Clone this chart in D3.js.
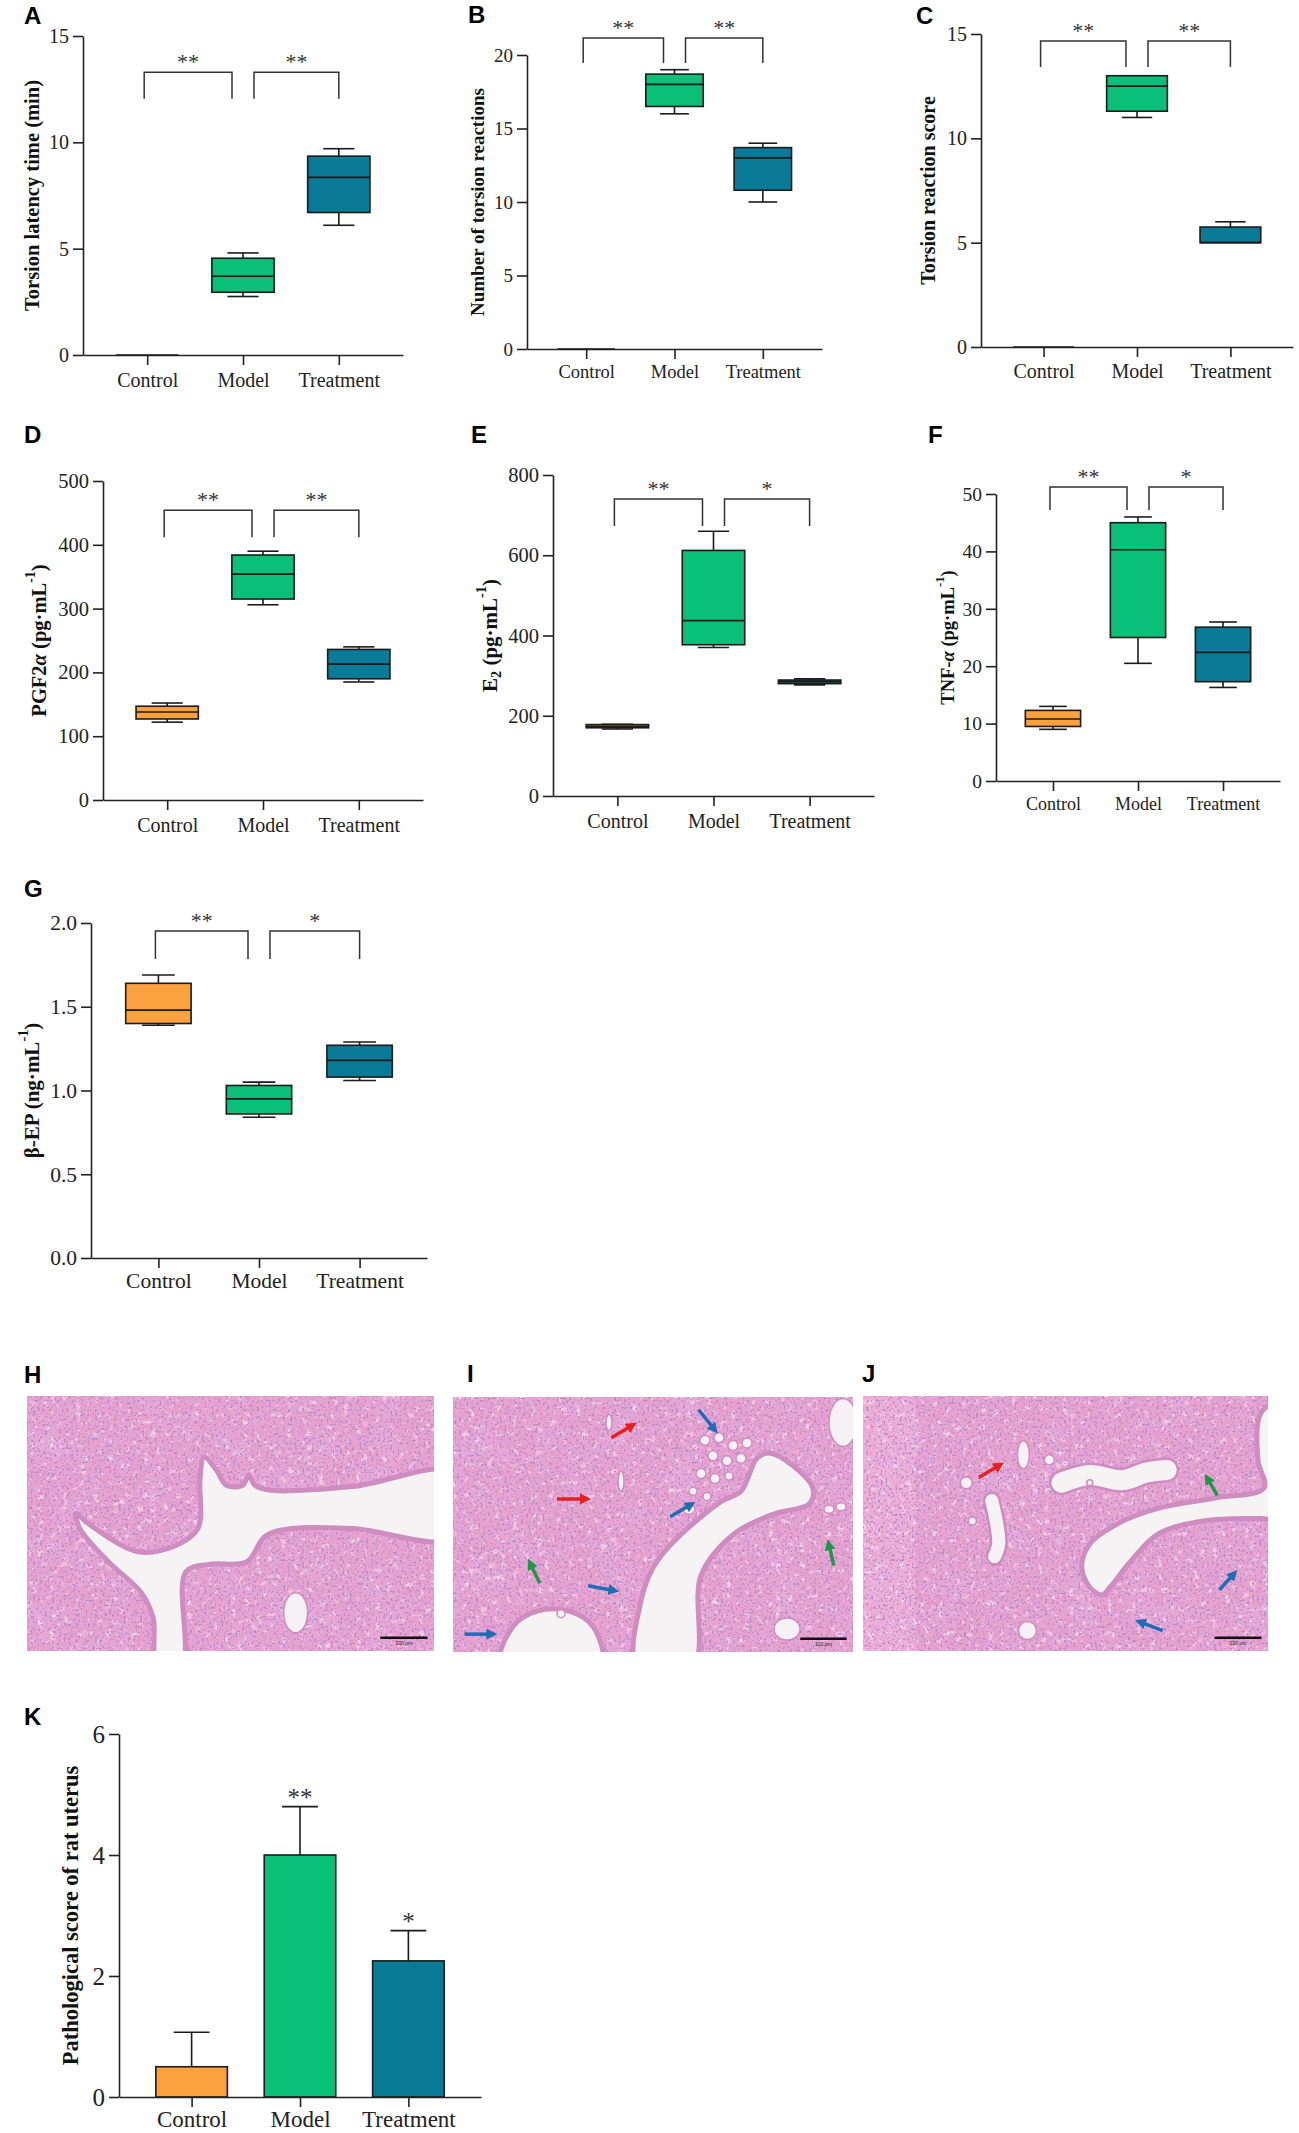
<!DOCTYPE html>
<html>
<head>
<meta charset="utf-8">
<script src="https://cdn.jsdelivr.net/npm/d3@7"></script>
<style>
  body { margin: 0; background: #fff; }
  svg { display: block; }
</style>
</head>
<body>
<svg id="fig"></svg>
<script>
// ---- data ----
let groups = ["Control", "Model", "Treatment"];
let groupColors = ["#f9a03f", "#0abf78", "#0a7b96"];

// box stats per group: [min, q1, median, q3, max]
let latencyStats  = [[0, 0, 0, 0, 0], [2.75, 2.95, 3.7, 4.55, 4.8], [6.1, 6.7, 8.35, 9.35, 9.7]];
let countStats    = [[0, 0, 0, 0, 0], [16, 16.5, 18, 18.7, 19], [10, 10.8, 13, 13.7, 14]];
let scoreStats    = [[0, 0, 0, 0, 0], [11, 11.3, 12.5, 13, 13], [5, 5, 5, 5.75, 6]];
let pgf2aStats    = [[122, 127, 138, 147, 152], [306, 315, 354, 384, 390], [185, 190, 213, 236, 240]];
let e2Stats       = [[167, 170, 174, 178, 179], [370, 377, 437, 612, 660], [277, 280, 285, 289, 292]];
let tnfStats      = [[9, 9.5, 10.8, 12.3, 13], [20.5, 25, 40.3, 45, 46], [16.3, 17.3, 22.4, 26.8, 27.7]];
let betaEpStats   = [[1.39, 1.40, 1.48, 1.64, 1.69], [0.84, 0.86, 0.95, 1.03, 1.05], [1.06, 1.08, 1.18, 1.27, 1.29]];

let pathMeans = [0.5, 4.0, 2.25];
let pathSD    = [0.57, 0.8, 0.5];
let pathSig   = ["", "**", "*"];

let latencyTicks = [0, 5, 10, 15];
let countTicks   = [0, 5, 10, 15, 20];
let scoreTicks   = [0, 5, 10, 15];
let pgf2aTicks   = [0, 100, 200, 300, 400, 500];
let e2Ticks      = [0, 200, 400, 600, 800];
let tnfTicks     = [0, 10, 20, 30, 40, 50];
let betaEpTicks  = [0, 0.5, 1.0, 1.5, 2.0];
let pathTicks    = [0, 2, 4, 6];

let latencySig = ["**", "**"];
let countSig   = ["**", "**"];
let scoreSig   = ["**", "**"];
let pgf2aSig   = ["**", "**"];
let e2Sig      = ["**", "*"];
let tnfSig     = ["**", "*"];
let betaEpSig  = ["**", "*"];

let svgWidth = 1299, svgHeight = 2133;
let serif = "'Liberation Serif', 'Times New Roman', serif";
let sans = "'Liberation Sans', Arial, sans-serif";
let ink = "#222";

let svg = d3.select("#fig").attr("width", svgWidth).attr("height", svgHeight);
let defs = svg.append("defs");

// ---- panel layout ----
let boxPanels = [
  {letter: "A", lx: 24, ly: 24, x0: 83, x1: 403, yTop: 36, yBot: 355, max: 15, ticks: latencyTicks, stats: latencyStats, sig: latencySig,
   bTop: 13.3, bLeg: 12.05, title: [{t: "Torsion latency time (min)"}], tOff: 51, tSize: 20.5, fs: 20, cs: 20, cPad: 8},
  {letter: "B", lx: 468, ly: 23, x0: 527, x1: 822, yTop: 55, yBot: 349, max: 20, ticks: countTicks, stats: countStats, sig: countSig,
   bTop: 21.16, bLeg: 19.45, title: [{t: "Number of torsion reactions"}], tOff: 50, tSize: 19, fs: 19, cs: 18.5, cPad: 6},
  {letter: "C", lx: 916, ly: 24, x0: 981, x1: 1293, yTop: 34, yBot: 347, max: 15, ticks: scoreTicks, stats: scoreStats, sig: scoreSig,
   bTop: 14.66, bLeg: 13.42, title: [{t: "Torsion reaction score"}], tOff: 53, tSize: 20, fs: 20, cs: 20, cPad: 7},
  {letter: "D", lx: 24, ly: 443, x0: 103, x1: 423, yTop: 481, yBot: 800, max: 500, ticks: pgf2aTicks, stats: pgf2aStats, sig: pgf2aSig,
   bTop: 454, bLeg: 412, title: [{t: "PGF2"}, {t: "α", it: true}, {t: " (pg·mL"}, {t: "-1", sup: true}, {t: ")"}], tOff: 64, tSize: 20.5, fs: 20.5, cs: 20, cPad: 8},
  {letter: "E", lx: 471, ly: 443, x0: 553, x1: 874, yTop: 475, yBot: 796, max: 800, ticks: e2Ticks, stats: e2Stats, sig: e2Sig,
   bTop: 740, bLeg: 673, title: [{t: "E"}, {t: "2", sub: true}, {t: " (pg·mL"}, {t: "-1", sup: true}, {t: ")"}], tOff: 63, tSize: 21, fs: 20.5, cs: 20, cPad: 8},
  {letter: "F", lx: 928, ly: 443, x0: 996, x1: 1280, yTop: 494, yBot: 781, max: 50, ticks: tnfTicks, stats: tnfStats, sig: tnfSig,
   bTop: 51.2, bLeg: 47.2, title: [{t: "TNF-"}, {t: "α", it: true}, {t: " (pg·mL"}, {t: "-1", sup: true}, {t: ")"}], tOff: 48, tSize: 18.5, fs: 19.5, cs: 18, cPad: 6},
  {letter: "G", lx: 24, ly: 897, x0: 91, x1: 427, yTop: 923, yBot: 1258, max: 2, ticks: betaEpTicks, stats: betaEpStats, sig: betaEpSig,
   bTop: 1.952, bLeg: 1.785, title: [{t: "β-EP (ng·mL"}, {t: "-1", sup: true}, {t: ")"}], tOff: 59, tSize: 21, fs: 21.5, cs: 21.5, cPad: 5, fmt: d3.format(".1f")}
];

let barPanel = {letter: "K", lx: 24, ly: 1725, x0: 119, x1: 481, yTop: 1734, yBot: 2097, max: 6, ticks: pathTicks,
  title: [{t: "Pathological score of rat uterus"}], tOff: 49, tSize: 22.5, fs: 25, cs: 23, cPad: 4};

function panelLetter(p) {
  svg.append("text")
    .text(p.letter)
    .attr("x", p.lx)
    .attr("y", p.ly)
    .attr("font-family", sans)
    .attr("font-weight", "bold")
    .attr("font-size", "24px")
    .attr("fill", "#000");
}

function yTitle(p) {
  let cy = (p.yTop + p.yBot) / 2;
  let t = svg.append("text")
    .attr("transform", "translate(" + (p.x0 - p.tOff) + "," + cy + ") rotate(-90)")
    .attr("text-anchor", "middle")
    .attr("dominant-baseline", "central")
    .attr("font-family", serif)
    .attr("font-weight", "bold")
    .attr("font-size", p.tSize + "px")
    .attr("fill", "#111");
  let shift = 0;
  p.title.forEach(function(seg) {
    let s = t.append("tspan").text(seg.t);
    let want = seg.sup ? -0.42 * p.tSize : (seg.sub ? 0.3 * p.tSize : 0);
    if (want !== shift) { s.attr("dy", want - shift); shift = want; }
    if (seg.sup || seg.sub) s.attr("font-size", (p.tSize * 0.68) + "px");
    if (seg.it) s.attr("font-style", "italic");
  });
}

function axes(p, x, y) {
  let ya = svg.append("g")
    .attr("transform", "translate(" + p.x0 + ",0)")
    .call(d3.axisLeft(y).tickValues(p.ticks).tickSize(10).tickSizeOuter(0).tickPadding(4)
      .tickFormat(p.fmt || d3.format("d")));
  let xa = svg.append("g")
    .attr("transform", "translate(0," + p.yBot + ")")
    .call(d3.axisBottom(x).tickSize(10).tickSizeOuter(0).tickPadding(p.cPad));
  [ya, xa].forEach(function(a) {
    a.selectAll(".domain, .tick line").attr("stroke", ink).attr("stroke-width", 1.6);
    a.selectAll("text").attr("font-family", serif).attr("fill", ink);
  });
  ya.selectAll("text").attr("font-size", p.fs + "px");
  xa.selectAll("text").attr("font-size", p.cs + "px");
}

function drawBoxPanel(p) {
  let x = d3.scalePoint().domain(groups).range([p.x0, p.x1]).padding(0.67);
  let y = d3.scaleLinear().domain([0, p.max]).range([p.yBot, p.yTop]);
  let bw = x.step() * 0.65;

  axes(p, x, y);

  let boxes = svg.append("g").selectAll("g")
    .data(groups)
    .enter()
    .append("g")
    .attr("transform", function(d) { return "translate(" + x(d) + ",0)"; });

  boxes.each(function(d, i) {
    let s = p.stats[i];
    let b = d3.select(this);
    if (s[4] > s[3]) {
      b.append("line").attr("x1", 0).attr("x2", 0).attr("y1", y(s[4])).attr("y2", y(s[3]));
      b.append("line").attr("x1", -bw / 4).attr("x2", bw / 4).attr("y1", y(s[4])).attr("y2", y(s[4]));
    }
    if (s[1] > s[0]) {
      b.append("line").attr("x1", 0).attr("x2", 0).attr("y1", y(s[1])).attr("y2", y(s[0]));
      b.append("line").attr("x1", -bw / 4).attr("x2", bw / 4).attr("y1", y(s[0])).attr("y2", y(s[0]));
    }
    b.append("rect")
      .attr("x", -bw / 2)
      .attr("y", y(s[3]))
      .attr("width", bw)
      .attr("height", y(s[1]) - y(s[3]))
      .attr("fill", groupColors[i]);
    b.append("line").attr("x1", -bw / 2).attr("x2", bw / 2).attr("y1", y(s[2])).attr("y2", y(s[2]));
  });
  boxes.selectAll("line, rect").attr("stroke", "#1b1b1b").attr("stroke-width", 1.6);

  // significance brackets
  let pairs = [[0, 1], [1, 2]], gap = 11;
  pairs.forEach(function(pr, k) {
    let left = x(groups[pr[0]]) + (k === 0 ? -3 : gap);
    let right = x(groups[pr[1]]) - (k === 0 ? gap : 0);
    svg.append("path")
      .attr("d", "M" + left + "," + y(p.bLeg) + "V" + y(p.bTop) + "H" + right + "V" + y(p.bLeg))
      .attr("fill", "none")
      .attr("stroke", "#333")
      .attr("stroke-width", 1.5);
    svg.append("text")
      .text(p.sig[k])
      .attr("x", (left + right) / 2)
      .attr("y", y(p.bTop) - 3)
      .attr("text-anchor", "middle")
      .attr("font-family", serif)
      .attr("font-size", "22px")
      .attr("fill", "#333");
  });

  yTitle(p);
  panelLetter(p);
}

function drawBarPanel(p) {
  let x = d3.scalePoint().domain(groups).range([p.x0, p.x1]).padding(0.67);
  let y = d3.scaleLinear().domain([0, p.max]).range([p.yBot, p.yTop]);
  let bw = x.step() * 0.66;

  let bars = svg.append("g").selectAll("g")
    .data(groups)
    .enter()
    .append("g")
    .attr("transform", function(d) { return "translate(" + x(d) + ",0)"; });

  bars.append("line")
    .attr("x1", 0).attr("x2", 0)
    .attr("y1", function(d, i) { return y(pathMeans[i]); })
    .attr("y2", function(d, i) { return y(pathMeans[i] + pathSD[i]); });
  bars.append("line")
    .attr("x1", -bw / 4).attr("x2", bw / 4)
    .attr("y1", function(d, i) { return y(pathMeans[i] + pathSD[i]); })
    .attr("y2", function(d, i) { return y(pathMeans[i] + pathSD[i]); });
  bars.append("rect")
    .attr("x", -bw / 2)
    .attr("y", function(d, i) { return y(pathMeans[i]); })
    .attr("width", bw)
    .attr("height", function(d, i) { return y(0) - y(pathMeans[i]); })
    .attr("fill", function(d, i) { return groupColors[i]; });
  bars.selectAll("line, rect").attr("stroke", "#1b1b1b").attr("stroke-width", 1.6);

  bars.append("text")
    .text(function(d, i) { return pathSig[i]; })
    .attr("x", 0)
    .attr("y", function(d, i) { return y(pathMeans[i] + pathSD[i]) - 1; })
    .attr("text-anchor", "middle")
    .attr("font-family", serif)
    .attr("font-size", "25px")
    .attr("fill", "#333");

  axes(p, x, y);
  yTitle(p);
  panelLetter(p);
}

boxPanels.forEach(drawBoxPanel);
drawBarPanel(barPanel);

// ---- H&E micrographs (H, I, J): drawn as stylised tissue ----
defs.append("filter").attr("id", "nuclei").attr("x", 0).attr("y", 0).attr("width", 1).attr("height", 1)
  .call(function(f) {
    f.append("feTurbulence").attr("type", "fractalNoise").attr("baseFrequency", 0.42).attr("numOctaves", 2).attr("seed", 4);
    f.append("feColorMatrix").attr("type", "matrix")
      .attr("values", "0 0 0 0 0.48  0 0 0 0 0.26  0 0 0 0 0.60  7 0 0 0 -3.85");
  });
defs.append("filter").attr("id", "voids").attr("x", 0).attr("y", 0).attr("width", 1).attr("height", 1)
  .call(function(f) {
    f.append("feTurbulence").attr("type", "fractalNoise").attr("baseFrequency", 0.16).attr("numOctaves", 2).attr("seed", 11);
    f.append("feColorMatrix").attr("type", "matrix")
      .attr("values", "0 0 0 0 1  0 0 0 0 0.93  0 0 0 0 0.98  0 5 0 0 -2.9");
  });
defs.append("filter").attr("id", "fibres").attr("x", 0).attr("y", 0).attr("width", 1).attr("height", 1)
  .call(function(f) {
    f.append("feTurbulence").attr("type", "fractalNoise").attr("baseFrequency", 0.03).attr("numOctaves", 3).attr("seed", 2);
    f.append("feColorMatrix").attr("type", "matrix")
      .attr("values", "0 0 0 0 0.80  0 0 0 0 0.45  0 0 0 0 0.75  0 0 3 0 -1.45");
  });

let arrowColors = {red: "#e3211f", blue: "#1f6db5", green: "#21964a"};
Object.keys(arrowColors).forEach(function(k) {
  defs.append("marker")
    .attr("id", "head-" + k)
    .attr("viewBox", "0 0 10 10")
    .attr("refX", 6).attr("refY", 5)
    .attr("markerWidth", 11).attr("markerHeight", 11)
    .attr("markerUnits", "userSpaceOnUse")
    .attr("orient", "auto")
    .append("path").attr("d", "M0,0L10,5L0,10z").attr("fill", arrowColors[k]);
});

let hLumen = [[1.05, 0.30], [0.80, 0.355], [0.60, 0.37], [0.56, 0.35], [0.545, 0.31], [0.53, 0.35], [0.49, 0.35], [0.465, 0.29],
  [0.435, 0.24], [0.425, 0.33], [0.42, 0.52], [0.36, 0.59], [0.27, 0.61], [0.15, 0.50], [0.12, 0.46], [0.13, 0.52], [0.20, 0.65],
  [0.28, 0.77], [0.31, 0.87], [0.32, 1.05], [0.38, 1.05], [0.39, 0.69], [0.45, 0.66], [0.54, 0.65], [0.585, 0.55], [0.65, 0.52],
  [0.80, 0.52], [1.05, 0.555]];
let iLumenA = [[0.79, 0.22], [0.76, 0.24], [0.72, 0.37], [0.67, 0.41], [0.55, 0.57], [0.50, 0.67], [0.47, 0.80], [0.46, 1.05],
  [0.60, 1.05], [0.62, 0.70], [0.70, 0.54], [0.80, 0.46], [0.89, 0.42], [0.90, 0.36], [0.85, 0.27]];
let iLumenB = [[0.12, 1.05], [0.15, 0.90], [0.21, 0.84], [0.29, 0.84], [0.35, 0.90], [0.37, 1.05]];
let jLumen = [[1.05, 0.02], [0.985, 0.06], [0.975, 0.25], [0.99, 0.36], [0.87, 0.40], [0.73, 0.44], [0.63, 0.50], [0.56, 0.58],
  [0.54, 0.67], [0.56, 0.75], [0.59, 0.78], [0.61, 0.75], [0.66, 0.65], [0.73, 0.54], [0.84, 0.49], [0.98, 0.48], [1.05, 0.48]];

let histoPanels = [
  {letter: "H", lx: 24, ly: 1383, x: 27, y: 1396, w: 407, h: 255, muscle: false,
   lumens: [hLumen], ducts: [], holes: [[0.66, 0.85, 12, 20]],
   arrows: []},
  {letter: "I", lx: 467, ly: 1382, x: 453, y: 1397, w: 400, h: 255, muscle: false,
   lumens: [iLumenA, iLumenB], ducts: [],
   holes: [[0.975, 0.10, 14, 24], [0.835, 0.91, 13, 11], [0.63, 0.17, 5, 5], [0.665, 0.16, 5, 5], [0.70, 0.19, 5, 5], [0.735, 0.18, 5, 5],
     [0.65, 0.23, 5, 5], [0.685, 0.25, 5, 5], [0.72, 0.24, 5, 5], [0.62, 0.30, 5, 5], [0.655, 0.32, 5, 5], [0.69, 0.31, 4, 4],
     [0.60, 0.37, 4, 4], [0.635, 0.39, 4, 4], [0.59, 0.44, 6, 5], [0.94, 0.44, 5, 4], [0.97, 0.43, 5, 4], [0.39, 0.10, 3, 8],
     [0.42, 0.33, 3, 10], [0.27, 0.85, 4, 4]],
   arrows: [[0.396, 0.16, 0.45, 0.11, "red"], [0.26, 0.40, 0.334, 0.40, "red"], [0.614, 0.05, 0.655, 0.13, "blue"],
     [0.543, 0.47, 0.597, 0.42, "blue"], [0.338, 0.74, 0.405, 0.76, "blue"], [0.029, 0.93, 0.10, 0.93, "blue"],
     [0.217, 0.73, 0.192, 0.65, "green"], [0.952, 0.66, 0.939, 0.575, "green"]]},
  {letter: "J", lx: 862, ly: 1382, x: 863, y: 1396, w: 405, h: 255, muscle: true,
   lumens: [jLumen],
   ducts: [[[0.49, 0.34], [0.56, 0.31], [0.64, 0.33], [0.70, 0.30], [0.75, 0.29], 20], [[0.318, 0.41], [0.33, 0.50], [0.335, 0.58], [0.325, 0.63], 13]],
   holes: [[0.396, 0.23, 6, 14], [0.255, 0.34, 6, 6], [0.46, 0.25, 5, 5], [0.406, 0.92, 9, 9], [0.27, 0.49, 4, 4], [0.56, 0.34, 3, 3]],
   arrows: [[0.286, 0.32, 0.339, 0.27, "red"], [0.875, 0.39, 0.849, 0.32, "green"], [0.88, 0.76, 0.917, 0.695, "blue"],
     [0.74, 0.92, 0.682, 0.885, "blue"]]}
];

function drawHisto(p, idx) {
  let sx = d3.scaleLinear().domain([0, 1]).range([p.x, p.x + p.w]);
  let sy = d3.scaleLinear().domain([0, 1]).range([p.y, p.y + p.h]);
  let clipId = "clip-" + idx;
  defs.append("clipPath").attr("id", clipId)
    .append("rect").attr("x", p.x).attr("y", p.y).attr("width", p.w).attr("height", p.h);

  let g = svg.append("g").attr("clip-path", "url(#" + clipId + ")");
  g.append("rect").attr("x", p.x).attr("y", p.y).attr("width", p.w).attr("height", p.h).attr("fill", "#e8a2d0");
  if (p.muscle) {
    g.append("rect").attr("x", p.x).attr("y", p.y).attr("width", p.w * 0.13).attr("height", p.h).attr("fill", "#efaed8");
  }
  g.append("rect").attr("x", p.x).attr("y", p.y).attr("width", p.w).attr("height", p.h).attr("filter", "url(#fibres)").attr("opacity", 0.55);
  g.append("rect").attr("x", p.x).attr("y", p.y).attr("width", p.w).attr("height", p.h).attr("filter", "url(#voids)").attr("opacity", 0.55);
  g.append("rect").attr("x", p.x).attr("y", p.y).attr("width", p.w).attr("height", p.h).attr("filter", "url(#nuclei)");

  let shape = d3.line()
    .x(function(d) { return sx(d[0]); })
    .y(function(d) { return sy(d[1]); })
    .curve(d3.curveCatmullRomClosed.alpha(0.5));
  let open = d3.line()
    .x(function(d) { return sx(d[0]); })
    .y(function(d) { return sy(d[1]); })
    .curve(d3.curveCatmullRom.alpha(0.5));

  p.lumens.forEach(function(l) {
    g.append("path").attr("d", shape(l)).attr("fill", "#f6f3f5").attr("stroke", "#cf8cc0").attr("stroke-width", 5);
  });
  p.ducts.forEach(function(dc) {
    let pts = dc.slice(0, dc.length - 1), wd = dc[dc.length - 1];
    g.append("path").attr("d", open(pts)).attr("fill", "none").attr("stroke", "#cf8cc0")
      .attr("stroke-width", wd + 5).attr("stroke-linecap", "round");
    g.append("path").attr("d", open(pts)).attr("fill", "none").attr("stroke", "#f6f3f5")
      .attr("stroke-width", wd).attr("stroke-linecap", "round");
  });
  p.holes.forEach(function(hl) {
    g.append("ellipse").attr("cx", sx(hl[0])).attr("cy", sy(hl[1])).attr("rx", hl[2]).attr("ry", hl[3])
      .attr("fill", "#f6f1f5").attr("stroke", "#cf8cc0").attr("stroke-width", 1.5);
  });

  p.arrows.forEach(function(a) {
    g.append("line")
      .attr("x1", sx(a[0])).attr("y1", sy(a[1]))
      .attr("x2", sx(a[2])).attr("y2", sy(a[3]))
      .attr("stroke", arrowColors[a[4]])
      .attr("stroke-width", 3.5)
      .attr("marker-end", "url(#head-" + a[4] + ")");
  });

  // scale bar
  g.append("line")
    .attr("x1", sx(0.868)).attr("x2", sx(0.984))
    .attr("y1", sy(0.948)).attr("y2", sy(0.948))
    .attr("stroke", "#111").attr("stroke-width", 2.5);
  g.append("text")
    .text("100 μm")
    .attr("x", sx(0.926)).attr("y", sy(0.978))
    .attr("text-anchor", "middle")
    .attr("font-family", sans)
    .attr("font-size", "5px")
    .attr("fill", "#222");

  panelLetter(p);
}

histoPanels.forEach(drawHisto);
</script>
</body>
</html>
